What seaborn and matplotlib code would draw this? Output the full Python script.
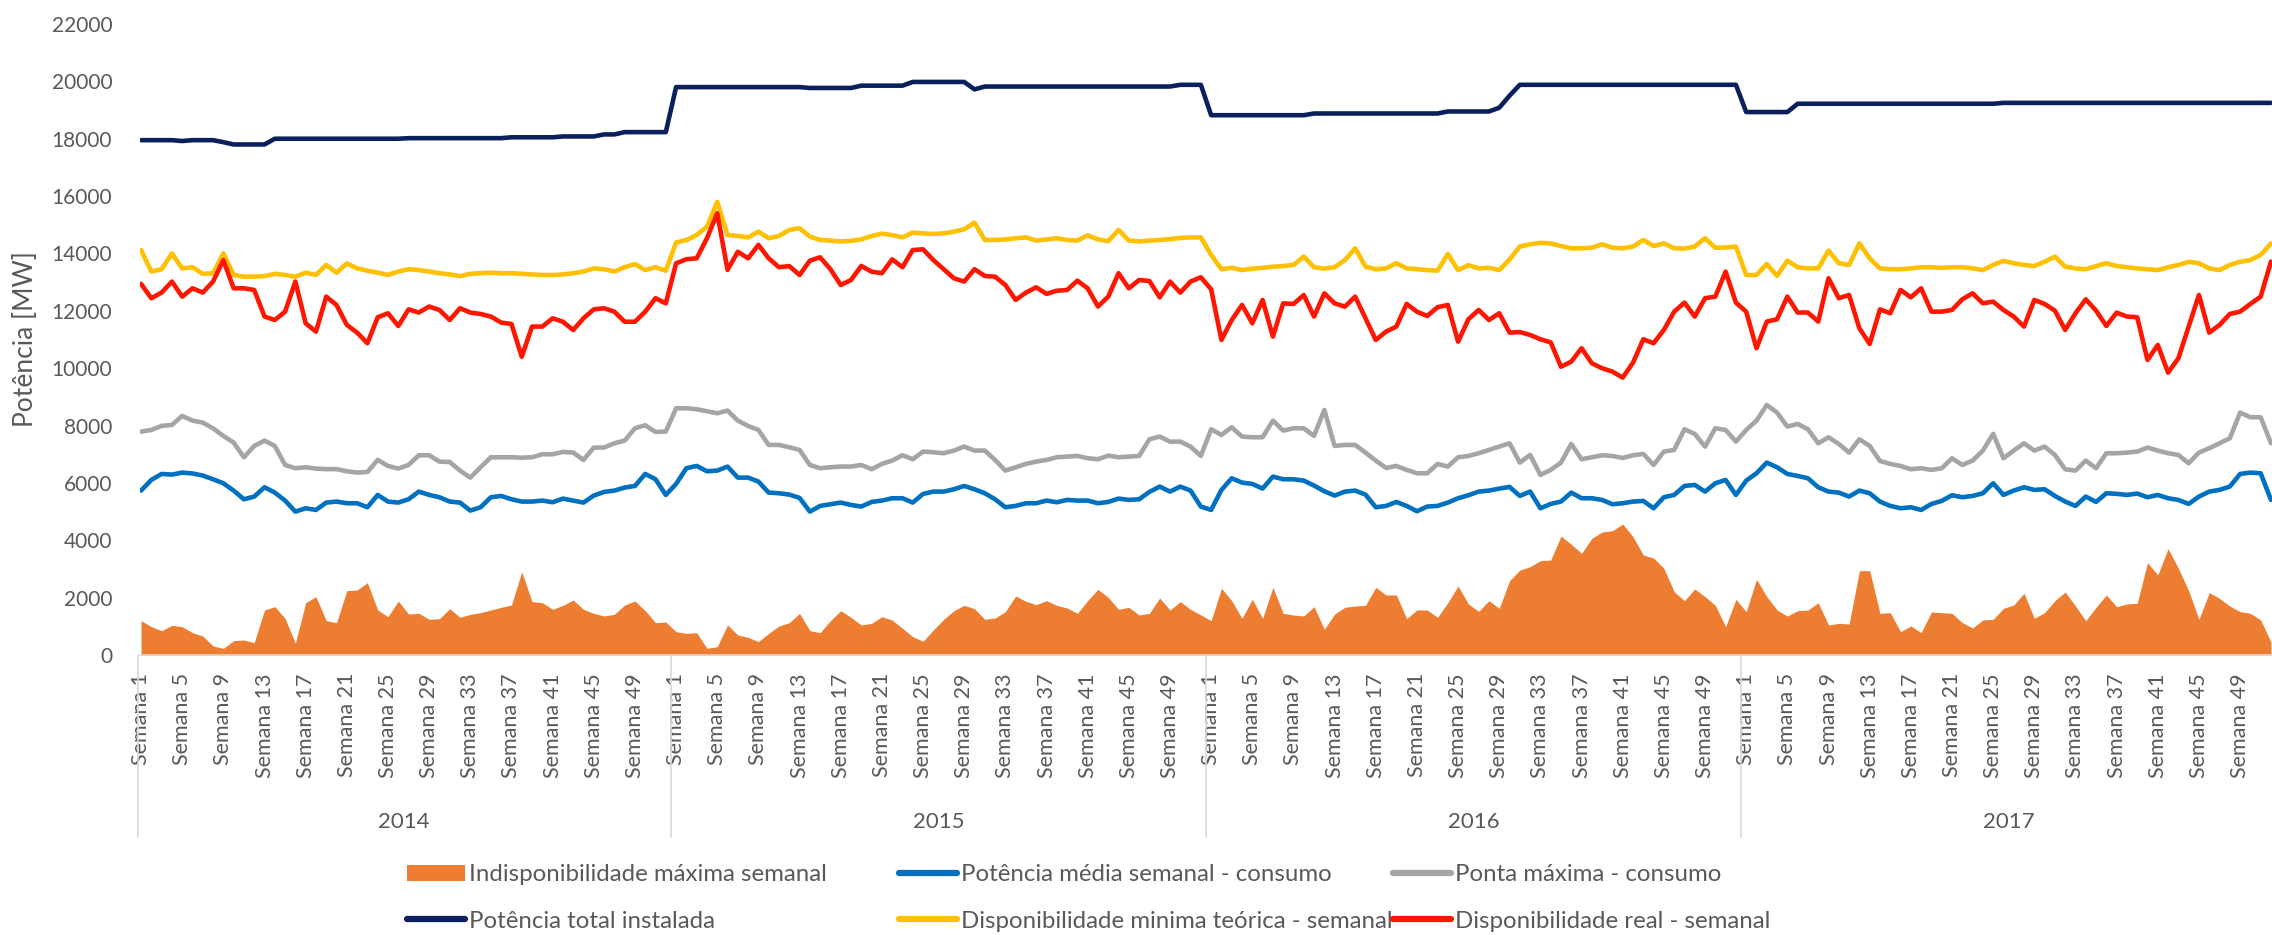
import numpy as np
import pandas as pd
import matplotlib.pyplot as plt
import matplotlib.transforms as mtransforms
import seaborn as sns
from matplotlib.patches import Patch
from matplotlib.lines import Line2D

# Semanas 1..52 de cada ano (2014-2017), valores em MW
anos = ["2014", "2015", "2016", "2017"]
semanas_rotulo = [1, 5, 9, 13, 17, 21, 25, 29, 33, 37, 41, 45, 49]

indisponibilidade = [
    # 2014
    1197, 988, 848, 1034, 988, 778, 662, 314, 232, 500, 523, 430, 1569, 1685, 1278, 407, 1824, 2034,
    1197, 1127, 2243, 2266, 2522, 1569, 1336, 1882, 1429, 1452, 1243, 1267, 1615, 1313, 1418, 1476,
    1569, 1662, 1743, 2900, 1859, 1824, 1592, 1731, 1917, 1592, 1453, 1360, 1418, 1743, 1882, 1545,
    1127, 1150,
    # 2015
    813, 755, 778, 232, 290, 1046, 697, 616, 465, 755, 1011, 1127, 1453, 848, 778, 1197, 1545,
    1313, 1046, 1104, 1336, 1220, 930, 639, 476, 872, 1243, 1545, 1731, 1615, 1243, 1290, 1510, 2057,
    1871, 1755, 1894, 1731, 1638, 1453, 1894, 2289, 2010, 1592, 1662, 1394, 1453, 1987, 1569, 1859,
    1592, 1394,
    # 2016
    1197, 2324, 1894, 1278, 1940, 1278, 2359, 1453, 1394, 1360, 1685, 895, 1429, 1662, 1708, 1731,
    2359, 2092, 2092, 1267, 1569, 1569, 1313, 1824, 2405, 1778, 1522, 1894, 1627, 2591, 2963, 3079,
    3288, 3312, 4148, 3858, 3544, 4067, 4288, 4334, 4567, 4125, 3486, 3381, 3021, 2208, 1894, 2301,
    2034, 1731, 988, 1940,
    # 2017
    1511, 2638, 2034, 1569, 1360, 1545, 1569, 1824, 1046, 1104, 1081, 2940, 2940, 1453, 1476, 813,
    1011, 778, 1499, 1476, 1453, 1127, 941, 1220, 1243, 1627, 1743, 2150, 1278, 1476, 1894, 2196,
    1708, 1197, 1662, 2092, 1685, 1778, 1801, 3219, 2789, 3707, 3021, 2243, 1243, 2173, 1975, 1708,
    1511, 1453, 1220, 450,
]

potencia_media = [
    # 2014
    5732, 6104, 6313, 6290, 6360, 6330, 6255, 6127, 5988, 5732, 5430, 5523, 5849, 5663, 5384, 4999,
    5116, 5058, 5314, 5349, 5291, 5291, 5151, 5581, 5349, 5314, 5430, 5697, 5581, 5500, 5349, 5314,
    5035, 5151, 5500, 5546, 5430, 5349, 5349, 5384, 5326, 5453, 5384, 5314, 5558, 5686, 5732, 5837,
    5895, 6313, 6127, 5581,
    # 2015
    5965, 6511, 6592, 6406, 6430, 6569, 6185, 6185, 6046, 5663, 5639, 5593, 5477, 5000, 5198, 5256,
    5314, 5232, 5175, 5337, 5384, 5465, 5465, 5314, 5616, 5697, 5697, 5778, 5895, 5778, 5639, 5430,
    5151, 5198, 5291, 5291, 5384, 5326, 5407, 5384, 5384, 5291, 5337, 5453, 5407, 5430, 5686, 5872,
    5697, 5872, 5732, 5175,
    # 2016
    5058, 5755, 6162, 6011, 5965, 5802, 6220, 6127, 6127, 6081, 5907, 5709, 5558, 5697, 5732, 5593,
    5151, 5198, 5337, 5198, 5012, 5175, 5198, 5314, 5465, 5570, 5697, 5732, 5802, 5860, 5546, 5697,
    5116, 5267, 5349, 5663, 5465, 5465, 5407, 5256, 5291, 5349, 5372, 5116, 5500, 5581, 5895, 5930,
    5697, 5988, 6104, 5581,
    # 2017
    6081, 6336, 6708, 6545, 6313, 6243, 6162, 5848, 5697, 5662, 5523, 5732, 5639, 5349, 5198, 5116,
    5151, 5058, 5267, 5372, 5570, 5500, 5546, 5639, 5988, 5581, 5732, 5849, 5756, 5780, 5546, 5349,
    5198, 5523, 5337, 5639, 5620, 5581, 5630, 5500, 5581, 5465, 5407, 5267, 5523, 5697, 5756, 5872,
    6313, 6360, 6336, 5407,
]

ponta_maxima = [
    # 2014
    7789, 7847, 7987, 8021, 8335, 8172, 8103, 7905, 7638, 7406, 6894, 7289, 7475, 7289, 6627, 6511,
    6546, 6500, 6480, 6480, 6406, 6360, 6380, 6801, 6592, 6499, 6627, 6964, 6964, 6743, 6730, 6429,
    6185, 6546, 6894, 6894, 6894, 6880, 6894, 6999, 6999, 7080, 7060, 6801, 7232, 7232, 7382, 7475,
    7905, 8010, 7777, 7789,
    # 2015
    8602, 8602, 8568, 8498, 8428, 8521, 8172, 7987, 7847, 7324, 7324, 7243, 7150, 6627, 6511, 6546,
    6570, 6569, 6627, 6476, 6662, 6778, 6964, 6825, 7092, 7070, 7034, 7127, 7266, 7127, 7127, 6801,
    6429, 6546, 6662, 6743, 6801, 6894, 6917, 6940, 6860, 6825, 6952, 6894, 6917, 6940, 7522, 7615,
    7440, 7440, 7266, 6940,
    # 2016
    7870, 7673, 7940, 7615, 7592, 7592, 8172, 7824, 7905, 7905, 7638, 8544, 7289, 7324, 7324, 7057,
    6778, 6522, 6592, 6453, 6336, 6336, 6662, 6569, 6894, 6940, 7034, 7150, 7266, 7382, 6708, 6975,
    6278, 6453, 6708, 7359, 6824, 6894, 6964, 6940, 6870, 6964, 7010, 6627, 7092, 7150, 7870, 7708,
    7266, 7905, 7847, 7440,
    # 2017
    7847, 8172, 8718, 8452, 7963, 8056, 7870, 7382, 7591, 7359, 7057, 7522, 7289, 6766, 6662, 6592,
    6476, 6511, 6453, 6511, 6859, 6627, 6778, 7127, 7708, 6859, 7127, 7382, 7127, 7266, 6975, 6476,
    6429, 6778, 6511, 7034, 7034, 7057, 7092, 7232, 7127, 7034, 6975, 6685, 7057, 7208, 7382, 7556,
    8451, 8289, 8289, 7382,
]

potencia_instalada = [
    # 2014
    17950, 17950, 17950, 17950, 17920, 17950, 17950, 17950, 17880, 17800, 17800, 17800, 17800, 18000,
    18000, 18000, 18000, 18000, 18000, 18000, 18000, 18000, 18000, 18000, 18000, 18000, 18020, 18020,
    18020, 18020, 18020, 18020, 18020, 18020, 18020, 18020, 18050, 18050, 18050, 18050, 18050, 18080,
    18080, 18080, 18080, 18150, 18150, 18230, 18230, 18230, 18230, 18230,
    # 2015
    19800, 19800, 19800, 19800, 19800, 19800, 19800, 19800, 19800, 19800, 19800, 19800, 19800, 19770,
    19770, 19770, 19770, 19770, 19850, 19850, 19850, 19850, 19850, 19980, 19980, 19980, 19980, 19980,
    19980, 19720, 19820, 19820, 19820, 19820, 19820, 19820, 19820, 19820, 19820, 19820, 19820, 19820,
    19820, 19820, 19820, 19820, 19820, 19820, 19820, 19880, 19880, 19880,
    # 2016
    18820, 18820, 18820, 18820, 18820, 18820, 18820, 18820, 18820, 18820, 18880, 18880, 18880, 18880,
    18880, 18880, 18880, 18880, 18880, 18880, 18880, 18880, 18880, 18950, 18950, 18950, 18950, 18950,
    19080, 19500, 19880, 19880, 19880, 19880, 19880, 19880, 19880, 19880, 19880, 19880, 19880, 19880,
    19880, 19880, 19880, 19880, 19880, 19880, 19880, 19880, 19880, 19880,
    # 2017
    18930, 18930, 18930, 18930, 18930, 19220, 19220, 19220, 19220, 19220, 19220, 19220, 19220, 19220,
    19220, 19220, 19220, 19220, 19220, 19220, 19220, 19220, 19220, 19220, 19220, 19250, 19250, 19250,
    19250, 19250, 19250, 19250, 19250, 19250, 19250, 19250, 19250, 19250, 19250, 19250, 19250, 19250,
    19250, 19250, 19250, 19250, 19250, 19250, 19250, 19250, 19250, 19250,
]

disp_minima = [
    # 2014
    14120, 13370, 13450, 14000, 13480, 13520, 13290, 13310, 14000, 13250, 13190, 13190, 13210, 13290,
    13250, 13190, 13330, 13250, 13600, 13330, 13650, 13480, 13400, 13330, 13250, 13370, 13450, 13420,
    13370, 13310, 13270, 13210, 13290, 13310, 13330, 13310, 13310, 13290, 13270, 13250, 13250, 13270,
    13310, 13370, 13480, 13450, 13370, 13520, 13630, 13420, 13520, 13400,
    # 2015
    14380, 14470, 14640, 14935, 15800, 14640, 14610, 14560, 14760, 14530, 14610, 14820, 14880, 14590,
    14470, 14450, 14420, 14440, 14490, 14610, 14690, 14640, 14560, 14730, 14700, 14680, 14700, 14760,
    14840, 15075, 14470, 14470, 14490, 14530, 14560, 14450, 14490, 14530, 14470, 14450, 14630, 14490,
    14430, 14820, 14450, 14420, 14450, 14470, 14500, 14540, 14560, 14560,
    # 2016
    13950, 13450, 13500, 13420, 13470, 13500, 13540, 13560, 13600, 13890, 13520, 13470, 13520, 13770,
    14180, 13540, 13450, 13480, 13660, 13480, 13450, 13420, 13400, 13980, 13420, 13590, 13480, 13500,
    13420, 13790, 14240, 14320, 14370, 14350, 14260, 14180, 14180, 14200, 14320, 14200, 14180, 14240,
    14470, 14260, 14350, 14180, 14170, 14240, 14530, 14200, 14210, 14240,
    # 2017
    13250, 13250, 13630, 13220, 13750, 13520, 13480, 13480, 14100, 13660, 13600, 14350, 13830, 13480,
    13450, 13450, 13480, 13520, 13520, 13500, 13520, 13520, 13480, 13420, 13600, 13740, 13660, 13600,
    13560, 13710, 13890, 13540, 13480, 13450, 13560, 13660, 13560, 13520, 13480, 13450, 13420, 13520,
    13600, 13710, 13660, 13480, 13420, 13600, 13710, 13770, 13950, 14350,
]

disp_real = [
    # 2014
    12940, 12440, 12635, 13020, 12495, 12785, 12635, 13020, 13770, 12785, 12785, 12727, 11800, 11680,
    11970, 13020, 11565, 11275, 12495, 12200, 11510, 11240, 10870, 11775, 11915, 11470, 12050, 11940,
    12150, 12030, 11680, 12090, 11940, 11890, 11800, 11590, 11540, 10400, 11450, 11450, 11740, 11620,
    11330, 11740, 12050, 12090, 11970, 11620, 11620, 11970, 12440, 12260,
    # 2015
    13655, 13800, 13830, 14530, 15400, 13425, 14060, 13830, 14300, 13830, 13520, 13560, 13250, 13750,
    13866, 13450, 12900, 13075, 13565, 13365, 13310, 13795, 13520, 14120, 14145, 13770, 13450, 13135,
    13020, 13450, 13215, 13190, 12900, 12380, 12635, 12820, 12590, 12700, 12727, 13050, 12785, 12150,
    12495, 13310, 12785, 13075, 13040, 12470, 13020, 12635, 13020, 13170,
    # 2016
    12750, 10985, 11680, 12205, 11565, 12380, 11100, 12260, 12240, 12550, 11800, 12610, 12260, 12145,
    12495, 11740, 10985, 11275, 11450, 12240, 11970, 11820, 12125, 12205, 10925, 11705, 12030, 11680,
    11915, 11240, 11260, 11160, 11008, 10900, 10050, 10230, 10695, 10170, 9997, 9880, 9671, 10195,
    11008, 10870, 11335, 11970, 12286, 11800, 12440, 12495, 13365, 12286,
    # 2017
    11970, 10695, 11625, 11705, 12495, 11940, 11940, 11625, 13135, 12440, 12553, 11390, 10845, 12050,
    11915, 12727, 12470, 12785, 11972, 11972, 12030, 12402, 12610, 12263, 12320, 12030, 11800, 11450,
    12380, 12240, 12007, 11335, 11915, 12402, 12007, 11473, 11937, 11800, 11775, 10287, 10810, 9845,
    10345, 11450, 12553, 11240, 11507, 11890, 11972, 12240, 12495, 13715,
]

nomes = {
    "area": "Indisponibilidade máxima semanal",
    "media": "Potência média semanal - consumo",
    "ponta": "Ponta máxima - consumo",
    "total": "Potência total instalada",
    "minima": "Disponibilidade minima teórica - semanal",
    "real": "Disponibilidade real - semanal",
}
cores = {
    "area": "#ED7D31",
    "media": "#0070C0",
    "ponta": "#A5A5A5",
    "total": "#0B1F5C",
    "minima": "#FFC000",
    "real": "#FF1500",
}

n_sem = 52
idx = np.arange(len(disp_real))
df = pd.DataFrame({
    "idx": idx,
    nomes["media"]: potencia_media,
    nomes["ponta"]: ponta_maxima,
    nomes["total"]: potencia_instalada,
    nomes["minima"]: disp_minima,
    nomes["real"]: disp_real,
})
ordem = [nomes["media"], nomes["ponta"], nomes["total"], nomes["minima"], nomes["real"]]
longo = df.melt(id_vars="idx", value_vars=ordem, var_name="serie", value_name="MW")
paleta = {nomes[k]: cores[k] for k in ["media", "ponta", "total", "minima", "real"]}

sns.set_theme(style="white")
plt.rcParams["font.family"] = ["Lato", "DejaVu Sans"]
cinza_txt = "#595959"

W, H = 2272, 935
fig = plt.figure(figsize=(W / 100, H / 100), dpi=100)
ax = fig.add_axes([140 / W, 280 / H, (W - 140) / W, 631 / H])

ax.fill_between(idx, 0, indisponibilidade, color=cores["area"], lw=0, zorder=1)
sns.lineplot(data=longo, x="idx", y="MW", hue="serie", hue_order=ordem, palette=paleta,
             linewidth=3.3, ax=ax, legend=False, sort=False, zorder=2)

ax.set_xlim(-0.1, 207.1)
ax.set_ylim(0, 22000)
ax.set_yticks(np.arange(0, 22001, 2000))
ax.set_yticklabels([str(v) for v in range(0, 22001, 2000)])
ax.set_ylabel("Potência [MW]", fontsize=19, color=cinza_txt)
ax.yaxis.set_label_coords((38 - 140) / (W - 140), 0.5)

pos, rot = [], []
for a in range(len(anos)):
    for s in semanas_rotulo:
        pos.append(a * n_sem + s - 1)
        rot.append(f"Semana {s}")
ax.set_xticks(pos)
ax.set_xticklabels(rot, rotation=90, va="top", ha="center")
ax.set_xlabel("")
ax.tick_params(axis="x", length=0, pad=13, labelsize=15.5, colors=cinza_txt)
ax.tick_params(axis="y", length=0, pad=20, labelsize=15, colors=cinza_txt)

for lado in ["top", "right", "left"]:
    ax.spines[lado].set_visible(False)
ax.spines["bottom"].set_color("#D9D9D9")
ax.spines["bottom"].set_linewidth(1.2)

trans = mtransforms.blended_transform_factory(ax.transData, ax.transAxes)
y_sep = -(837 - 655) / 631
for a in range(len(anos) + 1):
    xs = a * n_sem - 0.5 if a > 0 else -0.3
    ax.plot([xs, xs], [0, y_sep], transform=trans, color="#D9D9D9", lw=1.2, clip_on=False)
for a, ano in enumerate(anos):
    ax.text(a * n_sem + 25.5, -(822 - 655) / 631, ano, transform=trans, ha="center",
            va="center", fontsize=16, color=cinza_txt)

# legenda em tres colunas, como no Excel
colunas = [("area", "total", 407), ("media", "minima", 899), ("ponta", "real", 1393)]
for k1, k2, x0 in colunas:
    hs = []
    for k in (k1, k2):
        if k == "area":
            hs.append(Patch(facecolor=cores[k], edgecolor="none", label=nomes[k]))
        else:
            hs.append(Line2D([0], [0], color=cores[k], lw=4.5, label=nomes[k]))
    fig.legend(handles=hs, loc="center left", bbox_to_anchor=(x0 / W, 1 - 898 / H),
               frameon=False, fontsize=17.3, labelcolor=cinza_txt, handlelength=2.4,
               handleheight=0.7, handletextpad=0.2, labelspacing=1.05, borderpad=0,
               borderaxespad=0)

fig.savefig("out.png", dpi=100)
